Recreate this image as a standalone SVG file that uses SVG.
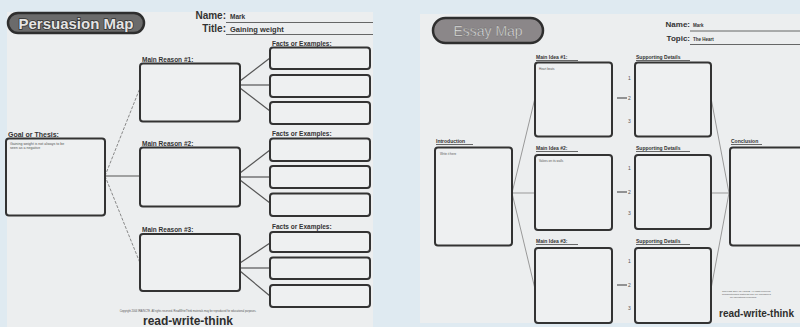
<svg xmlns="http://www.w3.org/2000/svg" width="800" height="327" viewBox="0 0 800 327">
<style>
.paper{fill:#eceeef}
.box{fill:#eef0f1;stroke:#333;stroke-width:2}
.lbl{font-family:"Liberation Sans",Arial,sans-serif;font-weight:bold;fill:#333}
.small{font-family:"Liberation Sans",Arial,sans-serif;fill:#555}
.cl{stroke:#555;stroke-width:1.2;fill:none}
.fl{stroke:#888;stroke-width:1;fill:none;stroke-dasharray:3 1.5}
.el{stroke:#999;stroke-width:1;fill:none}
.u{stroke:#444;stroke-width:0.8}
</style>
<rect width="800" height="327" fill="#dfeaf1"/>
<!-- Left worksheet -->
<rect class="paper" x="7" y="12" width="366" height="315"/>
<g id="persuasion-title">
<rect x="8" y="13" width="136" height="20" rx="10" fill="#6b6b6b" stroke="#2e2e2e" stroke-width="2.5"/>
<text x="76" y="28.5" text-anchor="middle" font-family="Liberation Sans,Arial,sans-serif" font-weight="bold" font-size="15" fill="#e4e4e4" stroke="#333" stroke-width="1.6" paint-order="stroke">Persuasion Map</text>
</g>
<g id="persuasion-header">
<text class="lbl" x="226" y="19" text-anchor="end" font-size="10">Name:</text>
<text class="lbl" x="230" y="19" font-size="6.5" fill="#444">Mark</text>
<line class="u" x1="226" y1="22.5" x2="373" y2="22.5"/>
<text class="lbl" x="226" y="32" text-anchor="end" font-size="10">Title:</text>
<text class="lbl" x="230" y="31.5" font-size="7.5" fill="#444">Gaining weight</text>
<line class="u" x1="226" y1="34.5" x2="373" y2="34.5"/>
</g>
<g id="connectors-left">
<line class="fl" x1="105" y1="176" x2="140" y2="88"/>
<line class="cl" x1="105" y1="176" x2="139" y2="176"/>
<line class="fl" x1="105" y1="176" x2="140" y2="263"/>
<line class="cl" x1="240" y1="81" x2="270" y2="58"/>
<line class="cl" x1="240" y1="85" x2="270" y2="85"/>
<line class="cl" x1="240" y1="88" x2="270" y2="111"/>
<line class="cl" x1="240" y1="173" x2="270" y2="150"/>
<line class="cl" x1="240" y1="177" x2="270" y2="177"/>
<line class="cl" x1="240" y1="180" x2="270" y2="203"/>
<line class="cl" x1="240" y1="263" x2="270" y2="243"/>
<line class="cl" x1="240" y1="268" x2="270" y2="268"/>
<line class="cl" x1="240" y1="271" x2="270" y2="296"/>
</g>
<g id="goal">
<text class="lbl" x="8" y="137" font-size="7">Goal or Thesis:</text>
<rect class="box" x="6" y="138.5" width="99" height="77" rx="3"/>
<text class="small" x="10" y="145" font-size="3.6">Gaining weight is not always to be</text>
<text class="small" x="10" y="149" font-size="3.6">seen as a negative</text>
</g>
<g id="reason1">
<text class="lbl" x="142" y="61.5" font-size="6.5">Main Reason #1:</text>
<rect class="box" x="140" y="63.5" width="100" height="58" rx="3"/>
</g>
<g id="reason2">
<text class="lbl" x="142" y="145.5" font-size="6.5">Main Reason #2:</text>
<rect class="box" x="140" y="147.5" width="100" height="59" rx="3"/>
</g>
<g id="reason3">
<text class="lbl" x="142" y="232" font-size="6.5">Main Reason #3:</text>
<rect class="box" x="140" y="234" width="100" height="57" rx="3"/>
</g>
<g id="facts1">
<text class="lbl" x="272" y="45.5" font-size="6.5">Facts or Examples:</text>
<rect class="box" x="270" y="47.5" width="100" height="21.5" rx="3"/>
<rect class="box" x="270" y="75" width="100" height="22" rx="3"/>
<rect class="box" x="270" y="102" width="100" height="22" rx="3"/>
</g>
<g id="facts2">
<text class="lbl" x="272" y="136" font-size="6.5">Facts or Examples:</text>
<rect class="box" x="270" y="138.5" width="100" height="22.5" rx="3"/>
<rect class="box" x="270" y="166" width="100" height="22" rx="3"/>
<rect class="box" x="270" y="193.5" width="100" height="22.5" rx="3"/>
</g>
<g id="facts3">
<text class="lbl" x="272" y="228.5" font-size="6.5">Facts or Examples:</text>
<rect class="box" x="270" y="232" width="100" height="20" rx="3"/>
<rect class="box" x="270" y="257.5" width="100" height="21.5" rx="3"/>
<rect class="box" x="270" y="285" width="100" height="22" rx="3"/>
</g>
<g id="footer-left">
<text class="small" x="188" y="312" text-anchor="middle" font-size="2.6">Copyright 2004 IRA/NCTE. All rights reserved. ReadWriteThink materials may be reproduced for educational purposes.</text>
<text x="188" y="325" text-anchor="middle" font-family="Liberation Sans,Arial,sans-serif" font-weight="bold" font-size="12" fill="#2e2e2e">read-write-think</text>
</g>
<!-- Right worksheet -->
<rect class="paper" x="420" y="14" width="380" height="309"/>
<g id="essay-title">
<rect x="433" y="18" width="110" height="25" rx="12.5" fill="#8b8789" stroke="#2e2e2e" stroke-width="2.5"/>
<text x="488" y="36" text-anchor="middle" font-family="Liberation Sans,Arial,sans-serif" font-size="14" fill="#eee" stroke="#666" stroke-width="0.4">Essay Map</text>
</g>
<g id="essay-header">
<text class="lbl" x="690" y="27" text-anchor="end" font-size="8">Name:</text>
<text class="lbl" x="693" y="27" font-size="4.5" fill="#444">Mark</text>
<line class="u" x1="690" y1="31" x2="800" y2="31"/>
<text class="lbl" x="690" y="41" text-anchor="end" font-size="8">Topic:</text>
<text class="lbl" x="693" y="41" font-size="4.5" fill="#444">The Heart</text>
<line class="u" x1="690" y1="44.5" x2="800" y2="44.5"/>
</g>
<g id="connectors-right">
<line class="el" x1="512" y1="193" x2="535" y2="98"/>
<line class="el" x1="512" y1="193" x2="535" y2="193"/>
<line class="el" x1="512" y1="193" x2="535" y2="289"/>
<line class="el" x1="711" y1="98" x2="729" y2="193"/>
<line class="el" x1="711" y1="193" x2="729" y2="193"/>
<line class="el" x1="711" y1="289" x2="729" y2="193"/>
<line class="cl" x1="617" y1="98" x2="627" y2="98"/>
<line class="cl" x1="617" y1="192" x2="627" y2="192"/>
<line class="cl" x1="617" y1="285" x2="627" y2="285"/>
</g>
<g id="numbers-right" class="small" font-size="5" fill="#444">
<text x="628" y="80">1</text><text x="628" y="100">2</text><text x="628" y="123">3</text>
<text x="628" y="170">1</text><text x="628" y="194">2</text><text x="628" y="215">3</text>
<text x="628" y="263">1</text><text x="628" y="287">2</text><text x="628" y="310">3</text>
</g>
<g id="introduction">
<text class="lbl" x="436" y="143" font-size="5">Introduction</text>
<line class="u" x1="436" y1="144.5" x2="473" y2="144.5"/>
<rect class="box" x="435" y="147.5" width="77" height="98" rx="3"/>
<text class="small" x="440" y="155" font-size="3">Write it here</text>
</g>
<g id="idea1">
<text class="lbl" x="536" y="59" font-size="5">Main Idea #1:</text>
<line class="u" x1="536" y1="60.5" x2="578" y2="60.5"/>
<rect class="box" x="535" y="62.5" width="77" height="74" rx="3"/>
<text class="small" x="539" y="70" font-size="3">Heart beats</text>
</g>
<g id="details1">
<text class="lbl" x="636" y="59" font-size="5">Supporting Details</text>
<line class="u" x1="636" y1="60.5" x2="690" y2="60.5"/>
<rect class="box" x="635" y="62.5" width="76" height="74" rx="3"/>
</g>
<g id="idea2">
<text class="lbl" x="536" y="150" font-size="5">Main Idea #2:</text>
<line class="u" x1="536" y1="151.5" x2="578" y2="151.5"/>
<rect class="box" x="535" y="155" width="77" height="75" rx="3"/>
<text class="small" x="539" y="162" font-size="3">Valves on its walls</text>
</g>
<g id="details2">
<text class="lbl" x="636" y="150" font-size="5">Supporting Details</text>
<line class="u" x1="636" y1="151.5" x2="690" y2="151.5"/>
<rect class="box" x="635" y="155" width="76" height="74" rx="3"/>
</g>
<g id="idea3">
<text class="lbl" x="536" y="243" font-size="5">Main Idea #3:</text>
<line class="u" x1="536" y1="244.5" x2="578" y2="244.5"/>
<rect class="box" x="535" y="248" width="77" height="75" rx="3"/>
</g>
<g id="details3">
<text class="lbl" x="636" y="243" font-size="5">Supporting Details</text>
<line class="u" x1="636" y1="244.5" x2="690" y2="244.5"/>
<rect class="box" x="635" y="248" width="76" height="75" rx="3"/>
</g>
<g id="conclusion">
<text class="lbl" x="731" y="143" font-size="5">Conclusion</text>
<line class="u" x1="731" y1="144.5" x2="762" y2="144.5"/>
<rect class="box" x="730" y="147.5" width="80" height="98" rx="3"/>
</g>
<g id="footer-right">
<text class="small" x="722" y="292" font-size="2.4">Copyright 2004 IRA/NCTE. All rights reserved.</text>
<text class="small" x="722" y="295" font-size="2.4">ReadWriteThink materials may be reproduced</text>
<text class="small" x="730" y="298" font-size="2.4">for educational purposes.</text>
<text x="719" y="317" font-family="Liberation Sans,Arial,sans-serif" font-weight="bold" font-size="10" fill="#2e2e2e">read-write-think</text>
</g>
</svg>
